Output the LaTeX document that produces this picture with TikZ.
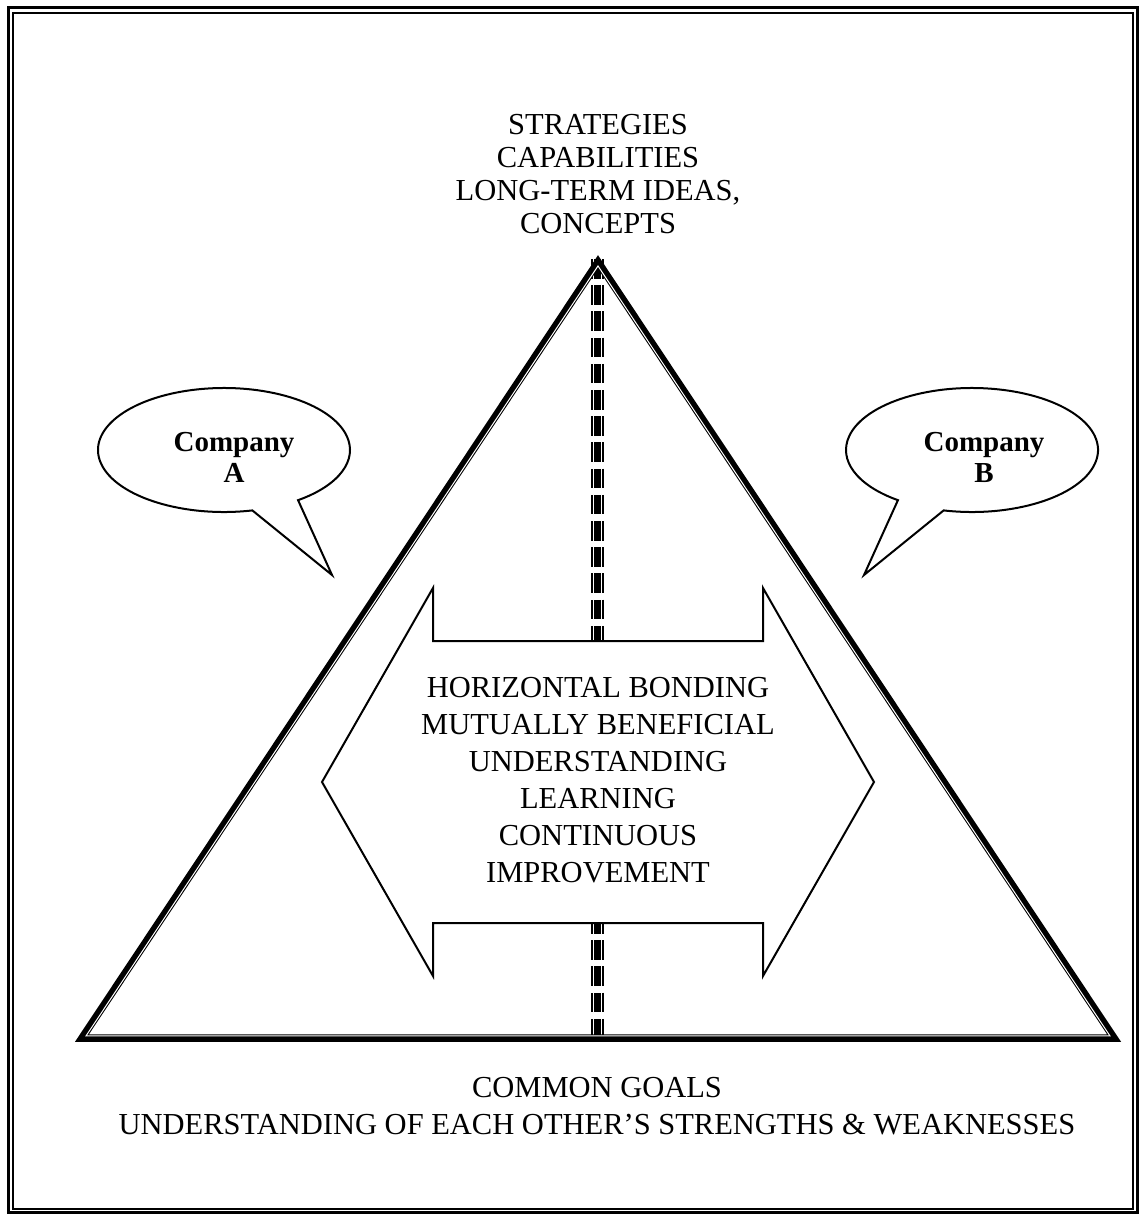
\documentclass[tikz,border=0pt]{standalone}
\usepackage{fontspec}
\setmainfont{Liberation Serif}
\usetikzlibrary{calc}
\begin{document}
\begin{tikzpicture}[x=1pt,y=-1pt,
  txt/.style={font=\fontsize{30.5}{37}\selectfont, align=center, inner sep=0pt},
  bubtxt/.style={font=\fontsize{29}{31}\selectfont\bfseries, align=center, inner sep=0pt},
  thin/.style={line width=2, line join=miter},
  spine/.style={line width=13, dash pattern=on 19.5 off 6.7},
]
\useasboundingbox (0,0) rectangle (1141,1215);

% double frame
\draw[line width=3] (8,7.5) rectangle (1137,1212);
\draw[line width=1.5] (13,13) rectangle (1133,1209);

% triangle corners and its incentre
\coordinate (apex) at (598,262);
\coordinate (bl) at (82,1038);
\coordinate (br) at (1114,1038);
\coordinate (inc) at (598,761.4);

% dashed spine from apex to base
\draw[spine] (597.5,259) -- (597.5,1038);
\draw[white, line width=1.3] (593.3,259) -- (593.3,1038);
\draw[white, line width=1.3] (601.5,259) -- (601.5,1038);

% heavy triangle with a fine inner rule
\draw[line width=7.5, line join=miter] (apex) -- (bl) -- (br) -- cycle;
\draw[white, line width=1.0] ($(inc)!0.99205!(apex)$) -- ($(inc)!0.99205!(bl)$) -- ($(inc)!0.99205!(br)$) -- cycle;

% double-headed block arrow
\filldraw[thin, fill=white] (433,588) -- (433,641) -- (763,641) -- (763,588) -- (874,782)
  -- (763,976) -- (763,923) -- (433,923) -- (433,976) -- (322,782) -- cycle;

% speech bubbles
\coordinate (ca) at (224,450);
\coordinate (tipa) at (332,575);
\draw[thin] (ca) ++(-77:126pt and 62pt)
  arc[start angle=-77, end angle=-414, x radius=126pt, y radius=62pt] -- (tipa) -- cycle;
\coordinate (cb) at (972,450);
\coordinate (tipb) at (864,575);
\draw[thin] (cb) ++(257:126pt and 62pt)
  arc[start angle=257, end angle=594, x radius=126pt, y radius=62pt] -- (tipb) -- cycle;

\node[bubtxt] (compa) at (234,457) {Company\\A};
\node[bubtxt] (compb) at (984,457) {Company\\B};

% texts
\node[txt, font=\fontsize{30.5}{33}\selectfont] (top) at (598,174)
  {STRATEGIES\\CAPABILITIES\\LONG-TERM IDEAS,\\CONCEPTS};
\node[txt] (mid) at (598,780)
  {HORIZONTAL BONDING\\MUTUALLY BENEFICIAL\\UNDERSTANDING\\LEARNING\\CONTINUOUS\\IMPROVEMENT};
\node[txt] (bottom) at (597,1106)
  {COMMON GOALS\\UNDERSTANDING OF EACH OTHER'S STRENGTHS \& WEAKNESSES};
\end{tikzpicture}
\end{document}
